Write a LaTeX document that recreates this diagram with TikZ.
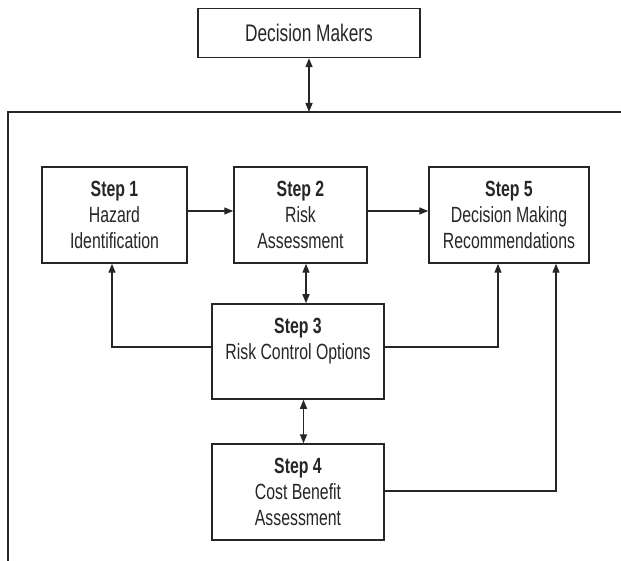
\documentclass[tikz,border=0pt]{standalone}
\usepackage{fontspec}
\setmainfont[FakeStretch=0.72]{Liberation Sans}
\usetikzlibrary{arrows.meta,calc}
\begin{document}
\begin{tikzpicture}[x=1pt,y=-1pt,
  box/.style={draw=black!85,line width=1.5pt,inner sep=0pt,align=center,
    font=\fontsize{22}{26}\selectfont,text=black!85},
  conn/.style={draw=black!85,line width=1.4pt},
  tip/.style={-{Triangle[length=9pt,width=7pt]}},
  bitip/.style={{Triangle[length=9pt,width=7pt]}-{Triangle[length=9pt,width=7pt]}}]
\useasboundingbox[fill=white] (0,0) rectangle (621,561);
% frame
\coordinate (fbl) at (8,561);
\coordinate (ftl) at (8,112);
\coordinate (ftr) at (621,112);
\draw[conn] (fbl) -- (ftl) -- (ftr);
% nodes
\node[box,minimum width=222pt,minimum height=49pt,font=\fontsize{24}{26}\selectfont] (dm) at (309,33) {Decision Makers};
\node[box,minimum width=145pt,minimum height=96pt] (s1) at (114.5,215) {\textbf{Step 1}\\Hazard\\Identification};
\node[box,minimum width=133pt,minimum height=96pt] (s2) at (300.5,215) {\textbf{Step 2}\\Risk\\Assessment};
\node[box,minimum width=160pt,minimum height=96pt] (s5) at (509,215) {\textbf{Step 5}\\Decision Making\\Recommendations};
\node[box,minimum width=172pt,minimum height=95pt] (s3) at (298,351.5) {\textbf{Step 3}\\Risk Control Options\\\mbox{}};
\node[box,minimum width=172pt,minimum height=96pt] (s4) at (298,492) {\textbf{Step 4}\\Cost Benefit\\Assessment};
% connectors
\draw[conn,bitip] (dm.south) -- (dm.south |- ftl);
\draw[conn,tip] ([yshift=4pt]s1.east) -- ([yshift=4pt]s1.east -| s2.west);
\draw[conn,tip] ([yshift=4pt]s2.east) -- ([yshift=4pt]s2.east -| s5.west);
\draw[conn,bitip] ([xshift=5.5pt]s2.south) -- ([xshift=5.5pt]s2.south |- s3.north);
\draw[conn,bitip] ([xshift=5.5pt]s3.south) -- ([xshift=5.5pt]s3.south |- s4.north);
\draw[conn,tip] ([yshift=4.5pt]s3.west) -| ([xshift=-2.5pt]s1.south);
\draw[conn,tip] ([yshift=4.5pt]s3.east) -| ([xshift=-11pt]s5.south);
\draw[conn,tip] ([yshift=1pt]s4.east) -| ([xshift=47pt]s5.south);
\end{tikzpicture}
\end{document}
